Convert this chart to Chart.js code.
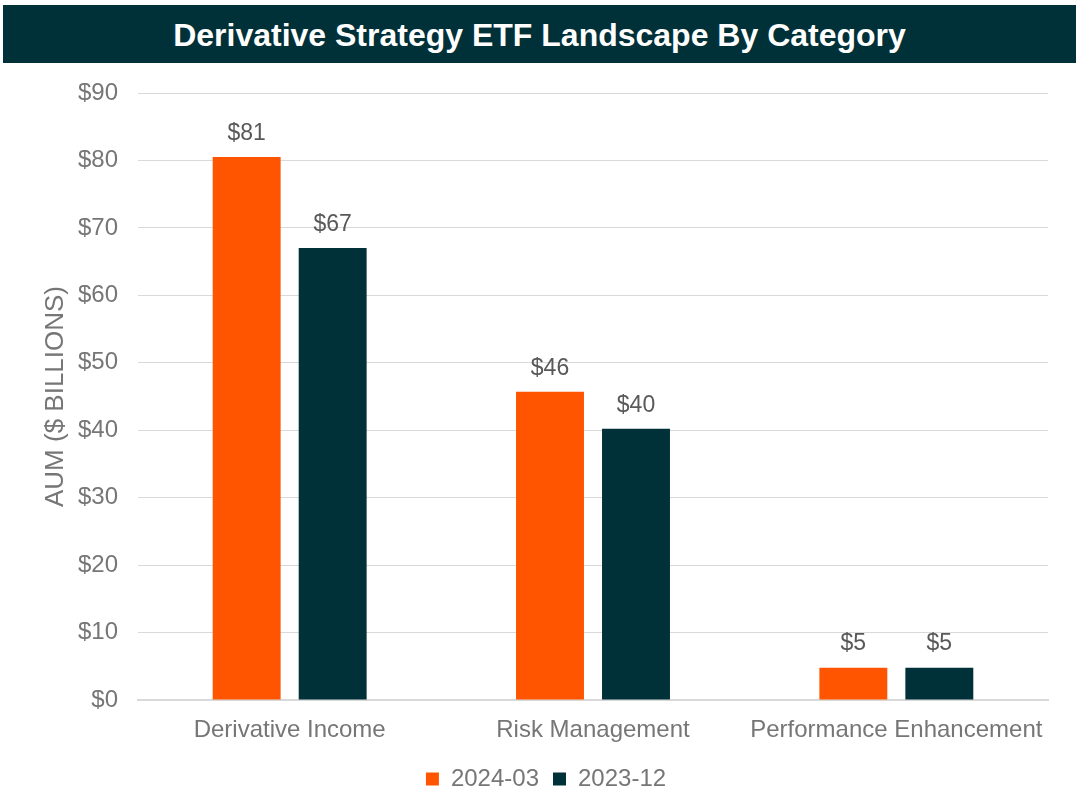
<!DOCTYPE html>
<html>
<head>
<meta charset="utf-8">
<script src="https://cdn.jsdelivr.net/npm/chart.js@4.4.1/dist/chart.umd.min.js"></script>
<style>
  html, body { margin: 0; padding: 0; background: #fff; }
  #wrap { position: relative; width: 1076px; height: 792px; }
  #title {
    position: absolute; left: 3px; top: 5px; width: 1073px; height: 58px;
    background: #003038; color: #fff;
    font: bold 32px "Liberation Sans", Arial, sans-serif;
    display: flex; align-items: center; justify-content: center;
    padding-top: 3px; box-sizing: border-box;
  }
  #cv { position: absolute; left: 0; top: 0; }
</style>
</head>
<body>
<div id="wrap">
  <canvas id="cv" width="1076" height="792"></canvas>
  <div id="title">Derivative Strategy ETF Landscape By Category</div>
</div>
<script>
// ── Data ──
const categories = ['Derivative Income', 'Risk Management', 'Performance Enhancement'];
const seriesNames = ['2024-03', '2023-12'];
const aum202403 = [80.5, 45.7, 4.8];
const aum202312 = [67.0, 40.2, 4.8];
const yTicks = [0, 10, 20, 30, 40, 50, 60, 70, 80, 90];
const yTitle = 'AUM ($ BILLIONS)';

const ORANGE = '#ff5500';
const DARK = '#003038';
const GRAY = '#767676';
const FONT = '"Liberation Sans", Arial, sans-serif';

// ── Value labels above bars + rotated y title ──
const barLabels = {
  id: 'barLabels',
  afterDatasetsDraw(chart) {
    const ctx = chart.ctx;
    ctx.save();
    ctx.font = '23px ' + FONT;
    ctx.fillStyle = '#595959';
    ctx.textAlign = 'center';
    ctx.textBaseline = 'bottom';
    chart.data.datasets.forEach((ds, di) => {
      chart.getDatasetMeta(di).data.forEach((bar, i) => {
        ctx.fillText('$' + Math.round(ds.data[i]), bar.x, bar.y - 12);
      });
    });
    ctx.restore();
  },
  afterDraw(chart) {
    const ctx = chart.ctx, ca = chart.chartArea;
    ctx.save();
    ctx.font = '26px ' + FONT;
    ctx.fillStyle = GRAY;
    ctx.textAlign = 'center';
    ctx.textBaseline = 'alphabetic';
    ctx.translate(63, (ca.top + ca.bottom) / 2);
    ctx.rotate(-Math.PI / 2);
    ctx.fillText(yTitle, 0, 0);
    ctx.restore();
  }
};

new Chart(document.getElementById('cv').getContext('2d'), {
  type: 'bar',
  data: {
    labels: categories,
    datasets: [
      { label: seriesNames[0], data: aum202403, backgroundColor: ORANGE },
      { label: seriesNames[1], data: aum202312, backgroundColor: DARK }
    ]
  },
  options: {
    responsive: false, animation: false,
    layout: { padding: { top: 93, left: 44, right: 28, bottom: -9 } },
    categoryPercentage: 0.567, barPercentage: 0.79,
    plugins: {
      legend: {
        position: 'bottom',
        labels: { color: GRAY, font: { size: 24, family: FONT }, boxWidth: 13, boxHeight: 13, padding: 14 }
      },
      tooltip: { enabled: false }
    },
    scales: {
      x: {
        grid: { display: false },
        border: { color: '#d9d9d9', width: 2 },
        ticks: { color: GRAY, font: { size: 24, family: FONT }, padding: 8 },
        afterFit: s => { s.height = 53; }
      },
      y: {
        min: 0, max: 90,
        afterBuildTicks: s => { s.ticks = yTicks.map(v => ({ value: v })); },
        grid: { color: '#d9d9d9', drawTicks: false },
        border: { display: false },
        ticks: { color: GRAY, font: { size: 24, family: FONT }, padding: 20, callback: v => '$' + v },
        afterFit: s => { s.width = 94; }
      }
    }
  },
  plugins: [barLabels]
});
</script>
</body>
</html>
